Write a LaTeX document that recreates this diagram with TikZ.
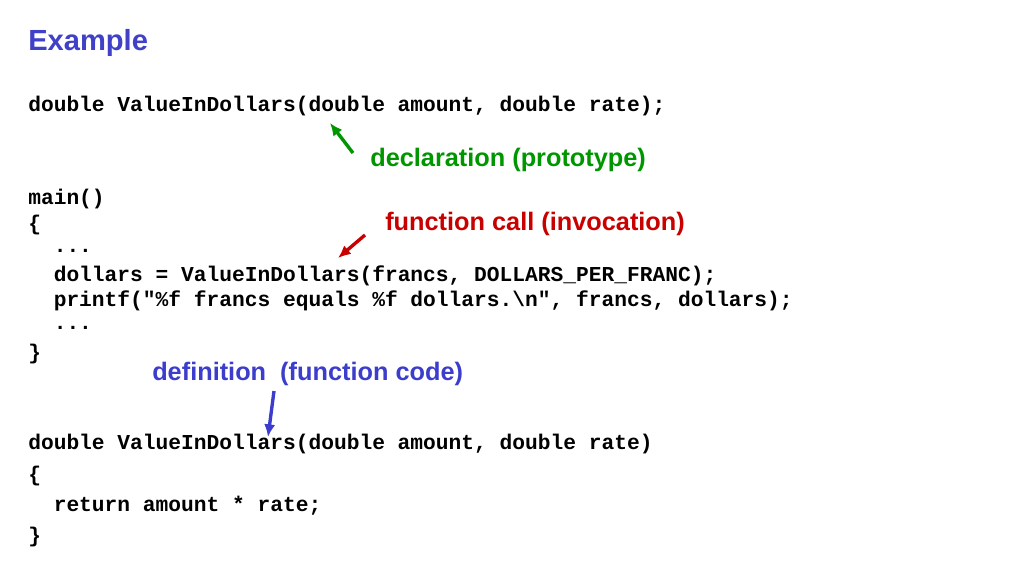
\documentclass[tikz,border=0pt]{standalone}
\usepackage{fontspec}
\setmainfont{Liberation Sans}
\setmonofont{Liberation Mono}
\usetikzlibrary{positioning,arrows.meta}
\definecolor{titleblue}{RGB}{64,64,200}
\definecolor{noteblue}{RGB}{60,60,205}
\definecolor{notegreen}{RGB}{0,150,0}
\definecolor{notered}{RGB}{200,0,0}
\tikzset{
  code/.style={anchor=west,inner sep=0pt,font=\ttfamily\bfseries\fontsize{15.1}{16}\selectfont},
  note/.style={anchor=west,inner sep=0pt,font=\bfseries\fontsize{18}{20}\selectfont},
  pointer/.style={-{Latex[length=9pt,width=8pt]},line width=2.4pt}
}
\begin{document}
\begin{tikzpicture}[x=0.025cm,y=-0.025cm]
\useasboundingbox (0,0) rectangle (1024,576);
\node[anchor=west,inner sep=0pt,font=\bfseries\fontsize{20.7}{23}\selectfont,text=titleblue] (title) at (28,43) {Example};
% prototype
\node[code] (proto) at (28,106) {double ValueInDollars(double amount, double rate);};
\node[note,text=notegreen] (decl) at (370,160) {declaration (prototype)};
% main
\node[code] (m1) at (28,199) {main()};
\node[code] (m2) at (28,225) {\{};
\node[code] (m3) at (28,251) {\ \ ...};
\node[code] (m4) at (28,276) {\ \ dollars = ValueInDollars(francs, DOLLARS\_PER\_FRANC);};
\node[code] (m5) at (28,301) {\ \ printf("\%f francs equals \%f dollars.\textbackslash n", francs, dollars);};
\node[code] (m6) at (28,328) {\ \ ...};
\node[code] (m7) at (28,354) {\}};
\node[note,text=notered] (call) at (385,224) {function call (invocation)};
\node[note,text=noteblue] (defn) at (152,374) {definition\ \ (function code)};
% definition
\node[code] (d1) at (28,444) {double ValueInDollars(double amount, double rate)};
\node[code] (d2) at (28,476) {\{};
\node[code] (d3) at (28,506) {\ \ return amount * rate;};
\node[code] (d4) at (28,537) {\}};
\coordinate (gtip) at (330,123);
\coordinate (gtail) at (353,153);
\coordinate (rtip) at (338,258);
\coordinate (rtail) at (365,235);
\coordinate (btip) at (268,437);
\coordinate (btail) at (274,391);
\draw[pointer,notegreen] (gtail) -- (gtip);
\draw[pointer,notered] (rtail) -- (rtip);
\draw[pointer,noteblue] (btail) -- (btip);
\end{tikzpicture}
\end{document}
